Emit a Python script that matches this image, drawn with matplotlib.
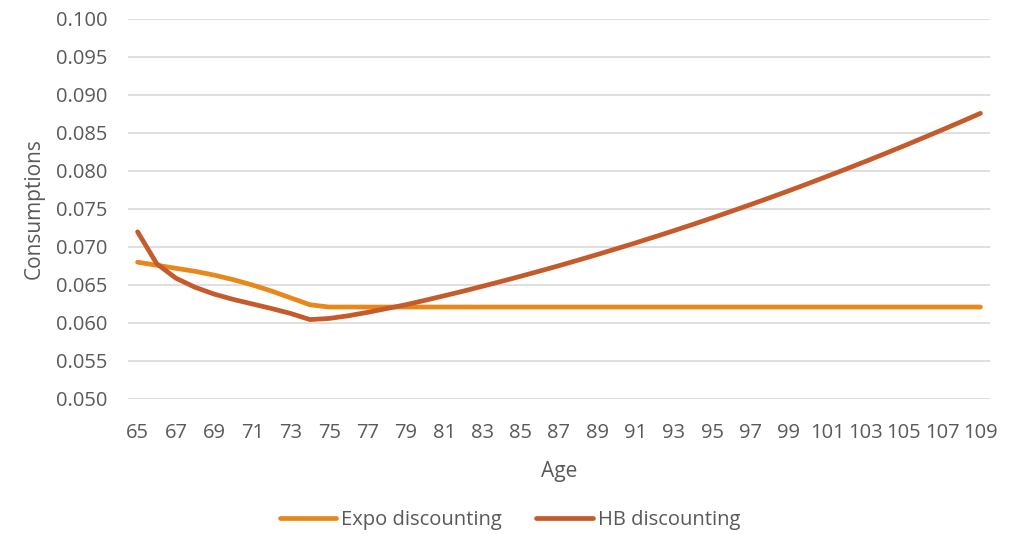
import numpy as np
import matplotlib.pyplot as plt

ages = list(range(65, 110))

expo = [0.0680, 0.0676, 0.0672, 0.0668, 0.0663, 0.0657, 0.0650, 0.0642, 0.0633, 0.0624] + [0.0621] * 35

hb = [0.07200, 0.06780, 0.06590, 0.06470, 0.06380, 0.06310, 0.06250, 0.06190, 0.06125, 0.06045,
      0.06060, 0.06095, 0.06140, 0.06190, 0.06240, 0.06298, 0.06358, 0.06419, 0.06483, 0.06548,
      0.06615, 0.06684, 0.06754, 0.06827, 0.06901, 0.06977, 0.07054, 0.07134, 0.07215, 0.07298,
      0.07383, 0.07470, 0.07558, 0.07648, 0.07740, 0.07834, 0.07930, 0.08027, 0.08126, 0.08227,
      0.08330, 0.08435, 0.08541, 0.08649, 0.08759]

y_ticks = [0.050, 0.055, 0.060, 0.065, 0.070, 0.075, 0.080, 0.085, 0.090, 0.095, 0.100]
x_ticks = ages[::2]

plt.rcParams['font.family'] = ['Open Sans', 'DejaVu Sans']
text_col = '#595959'

fig = plt.figure(figsize=(10.14, 5.34), dpi=100)
ax = fig.add_axes([128 / 1014, 1 - 399 / 534, 862 / 1014, 380 / 534])

ax.plot(ages, expo, color='#E8871A', lw=3.4, solid_capstyle='round', label='Expo discounting', zorder=3)
ax.plot(ages, hb, color='#C55A2A', lw=3.4, solid_capstyle='round', label='HB discounting', zorder=4)

ax.set_xlim(64.5, 109.5)
ax.set_ylim(0.050, 0.100)
ax.set_yticks(y_ticks)
ax.set_yticklabels([f'{v:.3f}' for v in y_ticks])
ax.set_xticks(x_ticks)
ax.set_xticklabels([str(a) for a in x_ticks])
ax.tick_params(length=0, labelsize=14.5, colors=text_col)
ax.tick_params(axis='y', pad=15)
ax.tick_params(axis='x', pad=17)
ax.grid(axis='y', color='#D9D9D9', lw=1.2)
ax.set_axisbelow(True)
for s in ax.spines.values():
    s.set_visible(False)

ax.set_xlabel('Age', fontsize=15, color=text_col, labelpad=13)
ax.set_ylabel('Consumptions', fontsize=15, color=text_col, labelpad=8)

fig.legend(loc='center', bbox_to_anchor=(0.503, 1 - 520 / 534), ncol=2, frameon=False,
           fontsize=14.5, labelcolor=text_col, handlelength=2.8, columnspacing=1.7, handletextpad=0.25)

fig.savefig('out.png', dpi=100)
